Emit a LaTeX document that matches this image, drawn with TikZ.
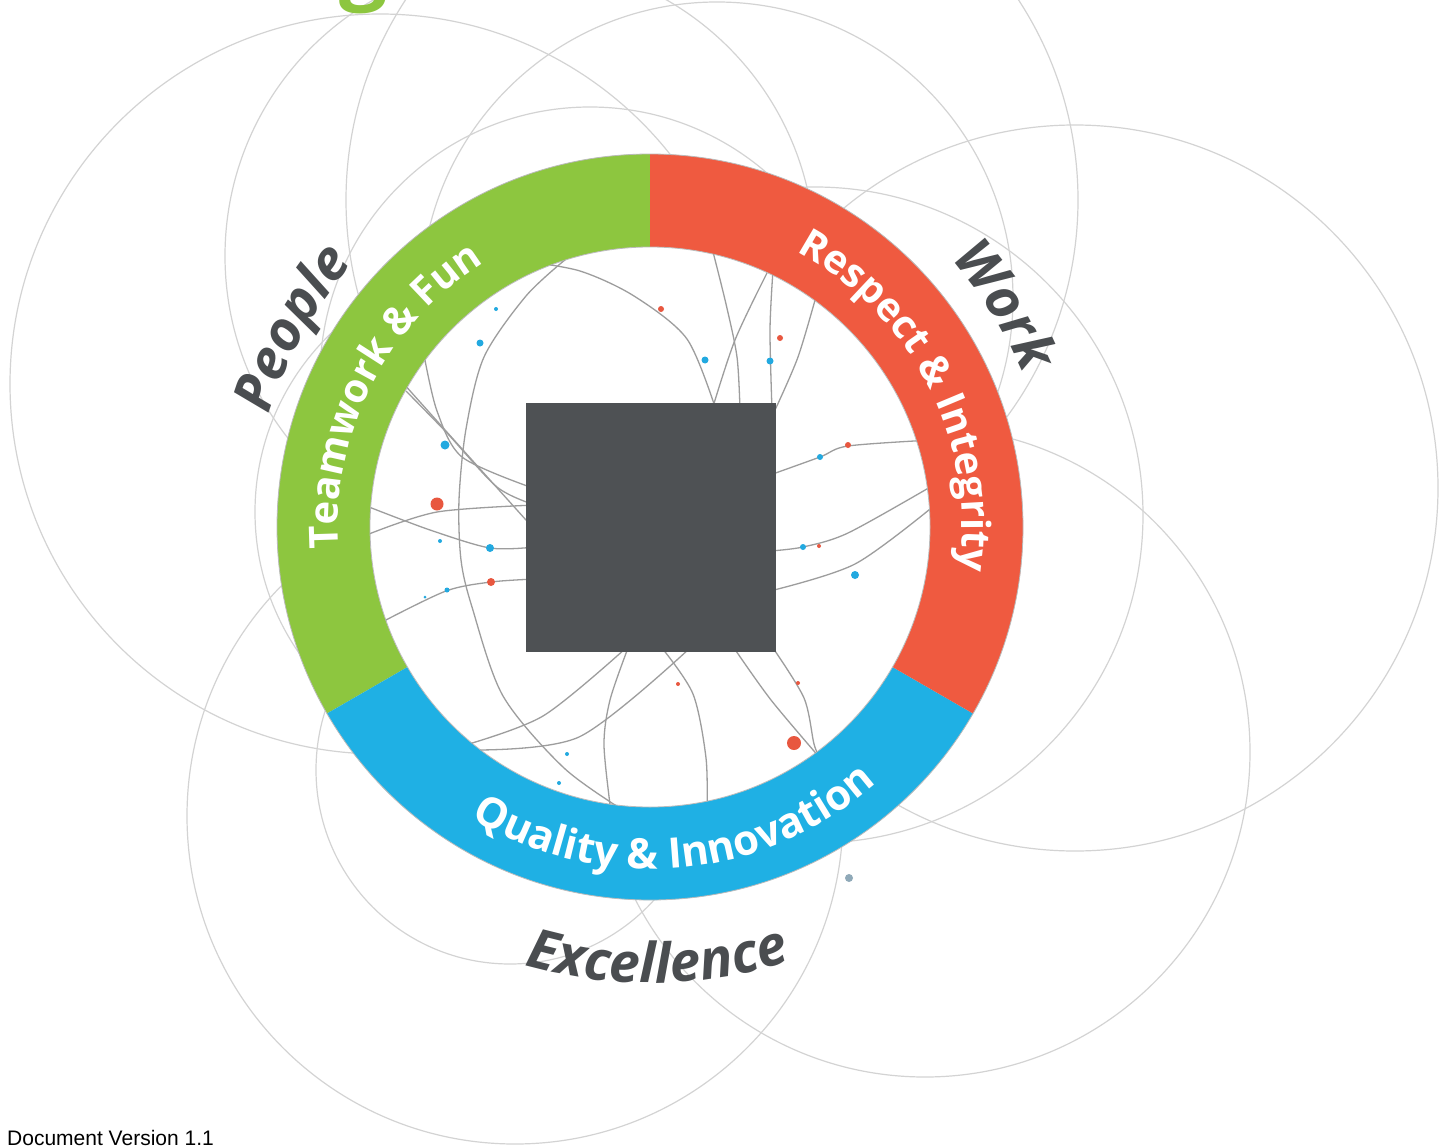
\documentclass[tikz,border=0pt]{standalone}
\usepackage{fontspec}
\setmainfont{Open Sans}
\newfontfamily\versionfont{Liberation Sans}
\usetikzlibrary{decorations.text}

\definecolor{teamgreen}{HTML}{8DC63F}
\definecolor{respectred}{HTML}{EF5A40}
\definecolor{qualityblue}{HTML}{1FB0E4}
\definecolor{boxgray}{HTML}{4E5154}
\definecolor{wordgray}{HTML}{4A4D50}
\definecolor{circlegray}{HTML}{D3D3D3}
\definecolor{arcgray}{HTML}{9D9D9D}
\definecolor{dotblue}{HTML}{22A9E0}
\definecolor{dotred}{HTML}{E8573F}
\definecolor{dotsteel}{HTML}{8FA9B8}

\newcommand{\ringfont}{\fontsize{40}{48}\selectfont\bfseries}
\newcommand{\lowringfont}{\fontsize{42}{50}\selectfont\bfseries}
\newcommand{\wordfont}{\fontsize{55}{64}\selectfont\bfseries\itshape}

\tikzset{
    bgcircle/.style={circlegray, line width=1.2},
    netarc/.style={arcgray, line width=1.3},
    ringedge/.style={arcgray!70, line width=0.8},
    ringtext/.style={decorate, decoration={text along path, text align=center,
        text color=white, text={#1}}},
    wordtext/.style={decorate, decoration={text along path, text align=center,
        text color=wordgray, text={#1}}}
}

\begin{document}
\begin{tikzpicture}[x=1pt, y=1pt]
    \useasboundingbox (0,0) rectangle (1446,-1148);
    \coordinate (ctr) at (650,-527);

    \begin{scope}
    \clip (0,0) rectangle (1446,-1148);
    % background circles
    \draw [bgcircle] (380,-384) circle [radius=370];
    \draw [bgcircle] (520,-256) circle [radius=295];
    \draw [bgcircle] (712,-200) circle [radius=366];
    \draw [bgcircle] (717,-298) circle [radius=296];
    \draw [bgcircle] (590,-377) circle [radius=270];
    \draw [bgcircle] (515,-816) circle [radius=328];
    \draw [bgcircle] (510,-770) circle [radius=194];
    \draw [bgcircle] (925,-752) circle [radius=325];
    \draw [bgcircle] (1075,-488) circle [radius=363];
    \draw [bgcircle] (815,-515) circle [radius=328];
    \draw [bgcircle] (503,-512) circle [radius=248];

    % title remnant
    \node [anchor=base, inner sep=0, text=teamgreen, font=\fontsize{85}{90}\selectfont\bfseries] (titleg) at (364,6) {g};
    \end{scope}

    % ring
    \fill [teamgreen] ([shift={(90:373)}]ctr) arc [start angle=90, end angle=210, radius=373]
        -- ([shift={(210:280)}]ctr) arc [start angle=210, end angle=90, radius=280] -- cycle;
    \fill [qualityblue] ([shift={(210:373)}]ctr) arc [start angle=210, end angle=330, radius=373]
        -- ([shift={(330:280)}]ctr) arc [start angle=330, end angle=210, radius=280] -- cycle;
    \fill [respectred] ([shift={(-30:373)}]ctr) arc [start angle=-30, end angle=90, radius=373]
        -- ([shift={(90:280)}]ctr) arc [start angle=90, end angle=-30, radius=280] -- cycle;
    \fill [white] (ctr) circle [radius=280];
    \draw [ringedge] (ctr) circle [radius=373];
    \draw [ringedge] (ctr) circle [radius=280];

    % network arcs
    \begin{scope}
        \clip (ctr) circle [radius=280];
        \draw [netarc] plot [smooth] coordinates {(523,-261) (580,-271) (634,-296) (687,-339) (716,-410)};
        \draw [netarc] plot [smooth] coordinates {(712,-248) (726,-304) (737,-357) (740,-410)};
        \draw [netarc] plot [smooth] coordinates {(773,-270) (770,-330) (772,-410)};
        \draw [netarc] plot [smooth] coordinates {(767,-273) (735,-340) (712,-410)};
        \draw [netarc] plot [smooth] coordinates {(817,-293) (798,-357) (775,-410)};
        \draw [netarc] plot [smooth] coordinates {(566,-259) (526,-296) (484,-357) (466,-429)
            (459,-500) (461,-560) (472,-607) (503,-696) (564,-768) (626,-812)};
        \draw [netarc] plot [smooth] coordinates {(424,-355) (437,-411) (462,-457) (530,-487)};
        \draw [netarc] plot [smooth] coordinates {(406,-391) (447,-433) (497,-487) (535,-505)};
        \draw [netarc] plot [smooth] coordinates {(403,-383) (463,-450) (535,-530)};
        \draw [netarc] plot [smooth] coordinates {(369,-507) (430,-530) (490,-548) (535,-547)};
        \draw [netarc] plot [smooth] coordinates {(369,-534) (437,-512) (535,-505)};
        \draw [netarc] plot [smooth] coordinates {(384,-621) (446,-591) (491,-582) (535,-579)};
        \draw [netarc] plot [smooth] coordinates {(770,-475) (820,-457) (848,-446) (932,-440)};
        \draw [netarc] plot [smooth] coordinates {(770,-551) (803,-547) (848,-533) (932,-486)};
        \draw [netarc] plot [smooth] coordinates {(770,-591) (855,-564) (935,-505)};
        \draw [netarc] plot [smooth] coordinates {(462,-746) (543,-716) (626,-648)};
        \draw [netarc] plot [smooth] coordinates {(470,-750) (579,-737) (690,-648)};
        \draw [netarc] plot [smooth] coordinates {(628,-648) (610,-700) (604,-745) (611,-812)};
        \draw [netarc] plot [smooth] coordinates {(662,-648) (693,-694) (706,-758) (707,-812)};
        \draw [netarc] plot [smooth] coordinates {(734,-648) (771,-700) (820,-758)};
        \draw [netarc] plot [smooth] coordinates {(773,-648) (804,-698) (814,-744) (820,-758)};
    \end{scope}

    % dots
    \fill [dotblue] (496,-309) circle [radius=2];
    \fill [dotred] (661,-309) circle [radius=3];
    \fill [dotblue] (480,-343) circle [radius=3.5];
    \fill [dotred] (780,-338) circle [radius=3];
    \fill [dotblue] (705,-360) circle [radius=3.5];
    \fill [dotblue] (770,-361) circle [radius=3.5];
    \fill [dotblue] (445,-445) circle [radius=4.5];
    \fill [dotred] (437,-504) circle [radius=6.5];
    \fill [dotblue] (440,-541) circle [radius=2];
    \fill [dotblue] (490,-548) circle [radius=4];
    \fill [dotred] (491,-582) circle [radius=4];
    \fill [dotblue] (447,-590) circle [radius=2.5];
    \fill [dotblue] (425,-597) circle [radius=1.5];
    \fill [dotred] (848,-445) circle [radius=3];
    \fill [dotblue] (820,-457) circle [radius=3];
    \fill [dotblue] (803,-547) circle [radius=3];
    \fill [dotred] (819,-546) circle [radius=2];
    \fill [dotblue] (855,-575) circle [radius=4];
    \fill [dotred] (678,-684) circle [radius=2];
    \fill [dotred] (798,-683) circle [radius=2];
    \fill [dotred] (794,-743) circle [radius=7];
    \fill [dotblue] (567,-754) circle [radius=2];
    \fill [dotblue] (559,-783) circle [radius=2];
    \fill [dotsteel] (849,-878) circle [radius=4];

    % logo box
    \node [fill=boxgray, minimum width=250pt, minimum height=249pt, inner sep=0] (logobox) at (651,-527.5) {};

    % ring labels
    \begin{scope}
        \ringfont
        \path [ringtext={Teamwork {\&} Fun}] ([shift={(213:312)}]ctr) arc [start angle=213, end angle=93, radius=312];
        \path [ringtext={Respect {\&} Integrity}] ([shift={(87:312)}]ctr) arc [start angle=87, end angle=-33, radius=312];
    \end{scope}
    \begin{scope}
        \lowringfont
        \path [ringtext={Quality {\&} Innovation}] ([shift={(-150:342)}]ctr) arc [start angle=-150, end angle=-20, radius=342];
    \end{scope}

    % outer words
    \begin{scope}
        \wordfont
        \path [wordtext={People}] ([shift={(186:397)}]ctr) arc [start angle=186, end angle=116, radius=397];
        \path [wordtext={Work}] ([shift={(67:403)}]ctr) arc [start angle=67, end angle=-3, radius=403];
        \path [wordtext={Excellence}] ([shift={(-134:456)}]ctr) arc [start angle=-134, end angle=-44, radius=456];
    \end{scope}

    % footer
    \node [anchor=base west, inner sep=0, font=\versionfont\fontsize{21}{25}\selectfont] (version) at (7,-1145) {Document Version 1.1};
\end{tikzpicture}
\end{document}
